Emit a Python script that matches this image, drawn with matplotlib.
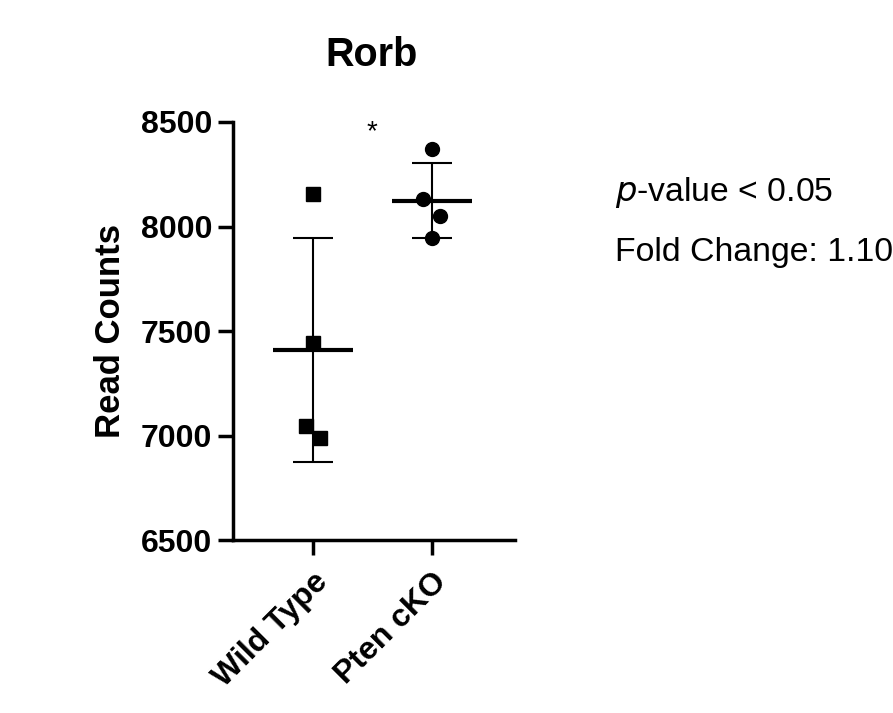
import numpy as np
import matplotlib
matplotlib.use("Agg")
import matplotlib.pyplot as plt
import matplotlib.transforms as mtransforms

plt.rcParams['font.family'] = ['Liberation Sans', 'DejaVu Sans']

categories = ["Wild Type", "Pten cKO"]
wt_values = [8154, 7441, 7047, 6989]
cko_values = [8369, 8132, 8049, 7946]
wt_jitter = [0.0, 0.0, -0.06, 0.06]
cko_jitter = [0.0, -0.07, 0.07, 0.0]
yticks = [6500, 7000, 7500, 8000, 8500]
title = "Rorb"
ylabel = "Read Counts"

fig = plt.figure(figsize=(8.93, 7.13), dpi=100)
ax = fig.add_axes([0.2609, 0.2426, 0.3158, 0.5863])

groups = [(wt_values, wt_jitter, 's', 10), (cko_values, cko_jitter, 'o', 10)]
for i, (vals, jit, mk, ms) in enumerate(groups):
    vals = np.array(vals, dtype=float)
    xs = i + np.array(jit)
    ax.plot(xs, vals, linestyle='none', marker=mk, markersize=ms, color='black', zorder=3)
    m = vals.mean()
    sd = vals.std(ddof=1)
    ax.errorbar([i], [m], yerr=[sd], fmt='none', ecolor='black', elinewidth=1.5,
                capsize=14.5, capthick=1.5, zorder=2)
    ax.hlines(m, i - 0.336, i + 0.336, color='black', linewidth=3, zorder=2)

ax.set_xlim(-0.672, 1.70)
ax.set_ylim(6500, 8500)
ax.set_yticks(yticks)
ax.set_yticklabels([str(t) for t in yticks], fontsize=23, fontweight='bold')
ax.set_xticks([0, 1])
ax.set_xticklabels(categories, fontsize=23, fontweight='bold', rotation=45,
                   ha='right', rotation_mode='anchor')
offset = mtransforms.ScaledTranslation(6 / 100, -4 / 100, fig.dpi_scale_trans)
for lbl in ax.get_xticklabels():
    lbl.set_transform(lbl.get_transform() + offset)
ax.set_ylabel(ylabel, fontsize=25, fontweight='bold', labelpad=10)

for s in ['top', 'right']:
    ax.spines[s].set_visible(False)
for s in ['left', 'bottom']:
    ax.spines[s].set_linewidth(2.5)
ax.tick_params(axis='both', width=2.5, length=11, pad=4)
ax.tick_params(axis='x', pad=8)

ax.text(0.5, 8450, "*", ha='center', va='center', fontsize=20)

fig.text(372 / 893, 1 - 55 / 713, title, ha='center', va='center', fontsize=28.5, fontweight='bold')
fig.text(615 / 893, 1 - 192 / 713, r"$p$-value < 0.05", ha='left', va='center', fontsize=24.3,
         math_fontfamily='custom')
fig.text(615 / 893, 1 - 252 / 713, "Fold Change: 1.10", ha='left', va='center', fontsize=24.3)

fig.savefig("out.png", dpi=100)
